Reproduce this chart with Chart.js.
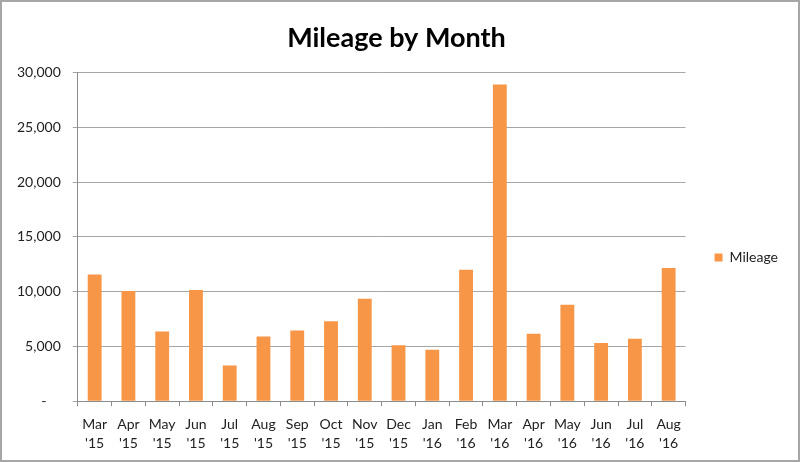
<!DOCTYPE html>
<html>
<head>
<meta charset="utf-8">
<script src="https://cdn.jsdelivr.net/npm/chart.js@4"></script>
<style>
  html, body { margin: 0; padding: 0; background: #fff; }
  #wrap { width: 800px; height: 462px; position: relative; }
</style>
</head>
<body>
<div id="wrap"><canvas id="c" width="800" height="462"></canvas></div>
<script>
// chart data
const months = [
    ["Mar", "'15"], ["Apr", "'15"], ["May", "'15"], ["Jun", "'15"], ["Jul", "'15"],
    ["Aug", "'15"], ["Sep", "'15"], ["Oct", "'15"], ["Nov", "'15"], ["Dec", "'15"],
    ["Jan", "'16"], ["Feb", "'16"], ["Mar", "'16"], ["Apr", "'16"], ["May", "'16"],
    ["Jun", "'16"], ["Jul", "'16"], ["Aug", "'16"]
];
const mileage = [
    11550, 10050, 6350, 10150, 3250, 5900, 6450, 7300, 9350, 5100,
    4700, 12000, 28900, 6150, 8800, 5300, 5700, 12150
];
const yTicks = [0, 5000, 10000, 15000, 20000, 25000, 30000];

const FONT = "Lato, 'Open Sans', sans-serif";

// fond blanc + bordure grise autour du graphique
const framePlugin = {
    id: 'frame',
    beforeDraw(chart) {
        const { ctx, width, height } = chart;
        ctx.save();
        ctx.fillStyle = '#fff';
        ctx.fillRect(0, 0, width, height);
        ctx.strokeStyle = '#a6a6a6';
        ctx.lineWidth = 2;
        ctx.strokeRect(1, 1, width - 2, height - 2);
        ctx.restore();
    }
};

const chart = new Chart(document.getElementById('c').getContext('2d'), {
    type: 'bar',
    data: {
        labels: months,
        datasets: [{
            label: 'Mileage',
            data: mileage,
            backgroundColor: '#F79646',
            borderWidth: 0,
            barPercentage: 0.41,
            categoryPercentage: 1.0
        }]
    },
    options: {
        responsive: false,
        animation: false,
        devicePixelRatio: 1,
        layout: {
            padding: { left: 5, right: 12, top: 0, bottom: 0 }
        },
        plugins: {
            title: {
                display: true,
                text: 'Mileage by Month',
                color: '#000',
                font: { family: FONT, size: 27, weight: 'bold' },
                padding: { top: 22, bottom: 18 }
            },
            legend: {
                display: true,
                position: 'right',
                align: 'center',
                title: {
                    // titre vide : sert juste à descendre la légende
                    display: true,
                    text: '',
                    font: { size: 1 },
                    padding: { top: 26, bottom: 26 }
                },
                labels: {
                    boxWidth: 8,
                    boxHeight: 8,
                    color: '#222',
                    font: { family: FONT, size: 14 },
                    padding: 29
                }
            },
            tooltip: { enabled: false }
        },
        scales: {
            x: {
                grid: {
                    display: true,
                    drawOnChartArea: false,
                    drawTicks: true,
                    tickLength: 5,
                    color: '#8c8c8c',
                    offset: true
                },
                border: { color: '#8c8c8c', width: 1 },
                ticks: {
                    color: '#222',
                    font: { family: FONT, size: 14, lineHeight: 1.35 },
                    maxRotation: 0,
                    autoSkip: false,
                    padding: 9
                }
            },
            y: {
                min: 0,
                max: 30000,
                afterBuildTicks(axis) {
                    axis.ticks = yTicks.map(v => ({ value: v }));
                },
                grid: {
                    color: '#a6a6a6',
                    tickLength: 5,
                    drawTicks: true
                },
                border: { color: '#8c8c8c', width: 1 },
                ticks: {
                    color: '#222',
                    font: { family: FONT, size: 14 },
                    padding: 12,
                    callback: v => v === 0 ? '-    ' : v.toLocaleString('en-US')
                }
            }
        }
    },
    plugins: [framePlugin]
});
</script>
</body>
</html>
